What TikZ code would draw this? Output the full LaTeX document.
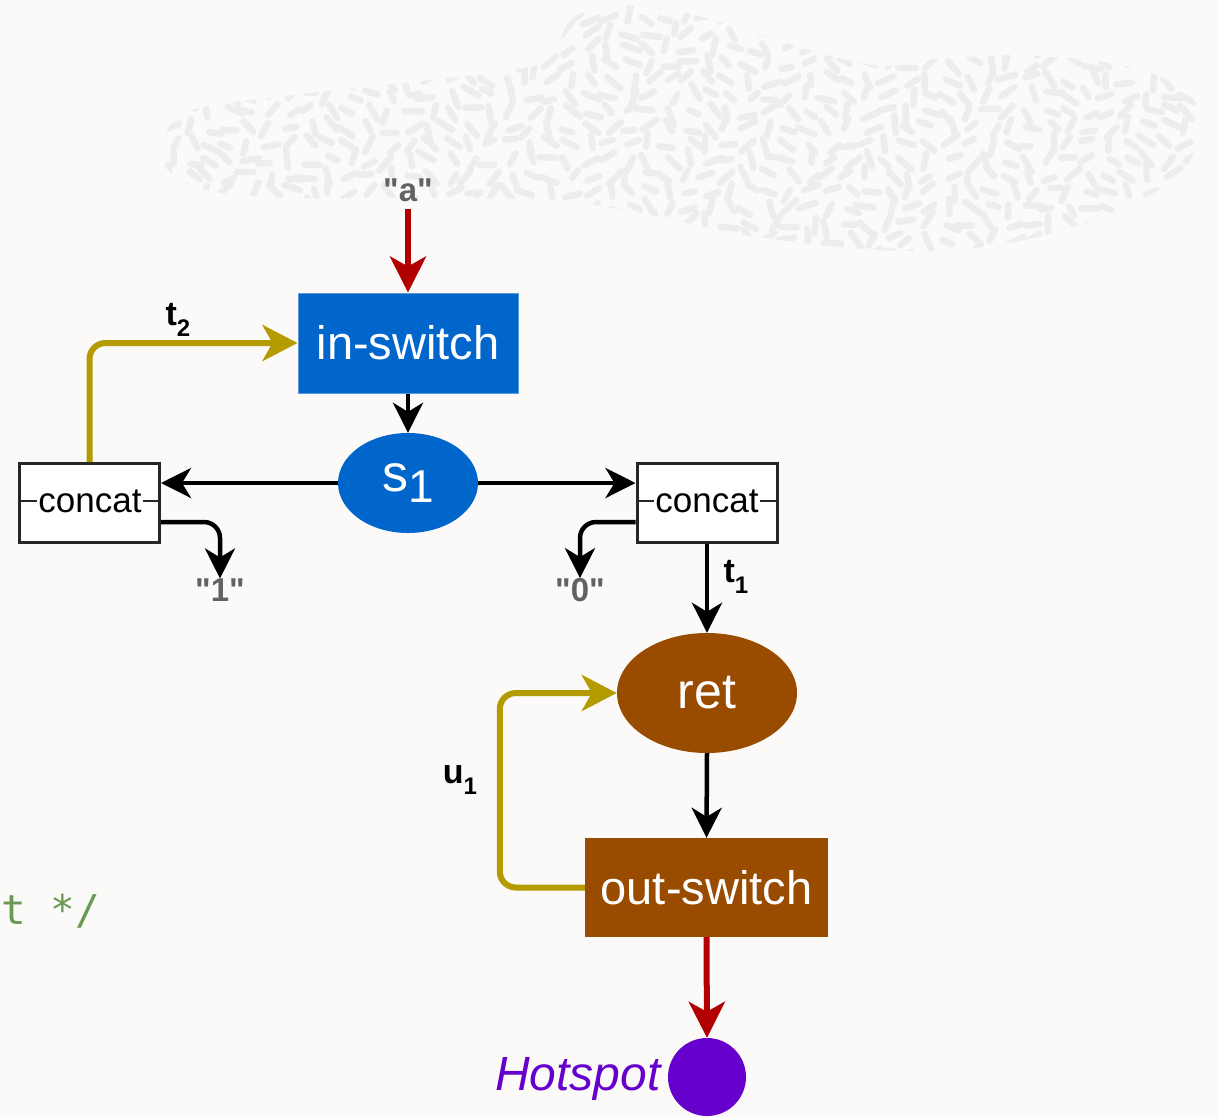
\documentclass[tikz,border=0pt]{standalone}
\usepackage{fontspec}
\setmainfont{Liberation Sans}[Ligatures=TeXOff]
\newfontfamily\codefont{DejaVu Sans Mono}
\usetikzlibrary{arrows.meta,shapes.geometric}

\definecolor{pagebg}{HTML}{FBFAF8}
\definecolor{markgray}{HTML}{EEEDEC}
\definecolor{swblue}{HTML}{0066CC}
\definecolor{swblueline}{HTML}{5B9BD5}
\definecolor{swbrown}{HTML}{994C00}
\definecolor{flowred}{HTML}{B20000}
\definecolor{loopgold}{HTML}{B39B00}
\definecolor{spotpurple}{HTML}{6600CC}
\definecolor{strgray}{HTML}{626262}
\definecolor{commentgreen}{HTML}{6A9955}

\newcommand{\sbx}[1]{\raisebox{-0.34em}{\fontsize{24}{24}\selectfont #1}}

\begin{document}
\begin{tikzpicture}[x=1pt,y=-1pt,
  blackflow/.style={draw=black,line width=4.5pt,-{Stealth[length=30pt,width=30pt,inset=9pt]}},
  redflow/.style={draw=flowred,line width=6pt,-{Stealth[length=36pt,width=36pt,inset=10pt]}},
  goldflow/.style={draw=loopgold,line width=6pt,rounded corners=16pt,-{Stealth[length=35pt,width=36pt,inset=10pt]}},
  switchbox/.style={rectangle,inner sep=0pt,text=white,font=\fontsize{47}{50}\selectfont},
  stateoval/.style={ellipse,inner sep=0pt,text=white},
  concatbox/.style={rectangle,draw=black!85,line width=3pt,fill=white,minimum width=140pt,minimum height=79pt,inner sep=0pt},
  concattext/.style={inner sep=1.5pt,font=\fontsize{35}{37}\selectfont},
  strlabel/.style={inner sep=0pt,text=strgray,font=\bfseries\fontsize{33}{34}\selectfont},
  edgelabel/.style={inner sep=0pt,font=\bfseries\fontsize{34}{36}\selectfont},
  blobmark/.style={draw=markgray,line width=6.5pt,line cap=round}
]
% page
\fill[pagebg] (0,0) rectangle (1218,1117);
\useasboundingbox (0,0) rectangle (1218,1117);

% textured cloud in the upper right: short rounded strokes on a jittered grid
\begin{scope}
  \clip plot[smooth cycle,tension=0.65] coordinates {
    (160,150) (188,112) (286,96) (422,81) (518,69) (552,56) (572,19)
    (613,6) (681,12) (763,36) (831,56) (886,66) (934,59) (1036,56)
    (1138,69) (1194,100) (1197,140) (1172,181) (1090,221) (1001,244)
    (903,251) (766,238) (643,214) (558,201) (422,198) (286,198)
    (202,189) (166,168)};
  \pgfmathsetseed{42}
  \foreach \gx in {0,...,54}{
    \foreach \gy in {0,...,17}{
      \pgfmathsetmacro\px{150+20*\gx+12*(rnd-0.5)}
      \pgfmathsetmacro\py{0+16*\gy+10*(rnd-0.5)}
      \pgfmathsetmacro\ang{90+75*sin(3.1*\px+2.3*\py)+40*(rnd-0.5)}
      \pgfmathsetmacro\len{5+4*rnd}
      \pgfmathsetmacro\dx{\len*cos(\ang)}
      \pgfmathsetmacro\dy{\len*sin(\ang)}
      \draw[blobmark] (\px-\dx,\py-\dy) -- (\px+\dx,\py+\dy);
    }
  }
\end{scope}

% stray comment text at the left edge
\node[anchor=base west,inner sep=0pt,text=commentgreen,font=\codefont\fontsize{41}{41}\selectfont] (cmt) at (1,924) {t */};

% nodes
\node[strlabel] (a) at (408,190) {"a"};
\node[switchbox,fill=swblue,draw=swblueline,line width=1pt,minimum width=220pt,minimum height=100pt] (insw) at (408,343) {in-switch};
\node[stateoval,fill=swblue,minimum width=140pt,minimum height=100pt,font=\fontsize{52}{52}\selectfont] (s1) at (408,483) {\raisebox{-0.1em}{s}\raisebox{-0.32em}{\fontsize{46}{46}\selectfont 1}};

\node[concatbox] (lc) at (89.5,503) {};
\node[concattext] (lct) at (90,501) {concat};
\node[concatbox] (rc) at (707,503) {};
\node[concattext] (rct) at (707,501) {concat};

\node[strlabel] (one) at (220,590) {"1"};
\node[strlabel] (zero) at (580,590) {"0"};

\node[stateoval,fill=swbrown,minimum width=180pt,minimum height=120pt,font=\fontsize{50}{50}\selectfont] (ret) at (707,693) {ret};
\node[switchbox,fill=swbrown,minimum width=243pt,minimum height=99pt] (osw) at (706.5,887.5) {out-switch};
\node[circle,fill=spotpurple,minimum size=78pt,inner sep=0pt] (hs) at (707,1077) {};
\node[anchor=east,inner sep=0pt,text=spotpurple,font=\itshape\fontsize{48}{48}\selectfont] (hsl) at ([xshift=-7pt,yshift=-2pt]hs.west) {Hotspot};

% tick marks joining the concat text to the box sides
\draw[line width=2pt,black!85] (lc.west |- lct.west) -- (lct.west);
\draw[line width=2pt,black!85] (lct.east) -- (lc.east |- lct.east);
\draw[line width=2pt,black!85] (rc.west |- rct.west) -- (rct.west);
\draw[line width=2pt,black!85] (rct.east) -- (rc.east |- rct.east);

% connectors
\draw[redflow] (a.south) ++(0,7) -- (insw.north);
\draw[blackflow] (insw.south) -- (s1.north);
\draw[blackflow] (s1.west) -- (s1.west -| lc.east);
\draw[blackflow] (s1.east) -- (s1.east -| rc.west);
\draw[blackflow,rounded corners=16pt] ([yshift=-19pt]lc.east) -| (one.north);
\draw[blackflow,rounded corners=16pt] ([yshift=-19pt]rc.west) -| (zero.north);
\draw[goldflow] (lc.north) |- (insw.west);
\draw[blackflow] (rc.south) -- (ret.north);
\draw[blackflow] (ret.south) -- (osw.north);
\draw[goldflow] (osw.west) -- ++(-85,0) |- (ret.west);
\draw[redflow] (osw.south) -- (hs.north);

% connector labels
\node[edgelabel] (t2) at (178,320) {t\sbx{2}};
\node[edgelabel] (t1) at (736,577) {t\sbx{1}};
\node[edgelabel] (u1) at (460,780) {u\sbx{1}};
\end{tikzpicture}
\end{document}
